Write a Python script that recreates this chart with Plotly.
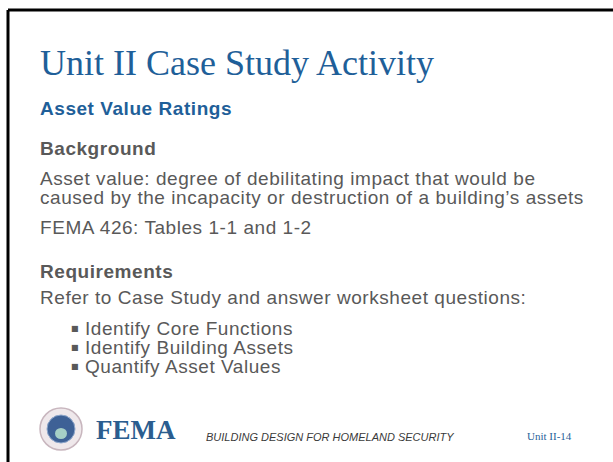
import plotly.graph_objects as go

title = "Unit II Case Study Activity"
subtitle = "Asset Value Ratings"
headings = ["Background", "Requirements"]
body_lines = [
    "Asset value: degree of debilitating impact that would be",
    "caused by the incapacity or destruction of a building\u2019s assets",
    "FEMA 426: Tables 1-1 and 1-2",
    "Refer to Case Study and answer worksheet questions:",
]
bullets = ["Identify Core Functions", "Identify Building Assets", "Quantify Asset Values"]
footer_text = "BUILDING DESIGN FOR HOMELAND SECURITY"
page_label = "Unit II-14"
logo_text = "FEMA"

W, H = 613, 462
BLUE = "#1F5F99"
GRAY = "#595959"
SANS = "Liberation Sans, Arial"
SERIF = "Liberation Serif, Times New Roman"
FS = 19          # body glyph size
LS = 0.55        # letter spacing (px)
PITCH = 14.7     # outer font size -> line pitch of about 19px

fig = go.Figure()
ann = []

def add(text, x, y, size, color, family=SANS, anchor="left"):
    ann.append(dict(text=text, x=x, y=y, xref="x", yref="y",
                    showarrow=False, xanchor=anchor, yanchor="middle", align="left",
                    font=dict(size=size, color=color, family=family)))

def span(t, size=FS, ls=LS):
    return '<span style="font-size:%spx;letter-spacing:%spx">%s</span>' % (size, ls, t)

def block(lines, x, y, color, spacing_size=PITCH, size=FS, ls=LS, family=SANS):
    # outer font size sets the line pitch (1.3 x size); inner span sets glyph size
    txt = "<br>".join(span(l, size, ls) for l in lines)
    add(txt, x, y, spacing_size, color, family=family)

add(title, 38, 63, 36, BLUE, family=SERIF)
add("<b>" + span(subtitle) + "</b>", 38, 108, FS, BLUE)
add("<b>" + span(headings[0]) + "</b>", 38, 148, FS, GRAY)
block(body_lines[0:2], 38, 188, GRAY)
add(span(body_lines[2]), 38, 227, FS, GRAY)
add("<b>" + span(headings[1]) + "</b>", 38, 271, FS, GRAY)
add(span(body_lines[3]), 38, 297, FS, GRAY)
block(bullets, 83, 347, GRAY)
block(["\u25a0"] * len(bullets), 69, 347, GRAY, size=8, ls=0, family="DejaVu Sans")

add("<b>" + logo_text + "</b>", 94, 430, 27, "#2A5D8F", family=SERIF)
add("<i>" + footer_text + "</i>", 204, 437, 11, "#3A3A3A")
add(page_label, 574, 436, 11, BLUE, family=SERIF, anchor="right")

shapes = [
    dict(type="line", x0=8, y0=10, x1=W, y1=10, xref="x", yref="y",
         line=dict(color="black", width=3)),
    dict(type="line", x0=8, y0=10, x1=8, y1=H, xref="x", yref="y",
         line=dict(color="black", width=3)),
    # seal
    dict(type="circle", x0=40, y0=408, x1=82, y1=450, xref="x", yref="y",
         fillcolor="#EFE8EB", line=dict(color="#C8B6BE", width=1.5)),
    dict(type="circle", x0=47, y0=415, x1=75, y1=443, xref="x", yref="y",
         fillcolor="#3E6196", line=dict(color="#8FA8CC", width=1)),
    dict(type="circle", x0=55, y0=428, x1=67, y1=439, xref="x", yref="y",
         fillcolor="#A6CFC6", line=dict(width=0)),
]

fig.update_layout(
    width=W, height=H,
    margin=dict(l=0, r=0, t=0, b=0),
    paper_bgcolor="white", plot_bgcolor="white",
    xaxis=dict(range=[0, W], visible=False, fixedrange=True),
    yaxis=dict(range=[H, 0], visible=False, fixedrange=True),
    annotations=ann, shapes=shapes, showlegend=False,
)
fig.write_html("out.html", config={"displayModeBar": False},
               post_script="document.body.style.margin='0px';")
